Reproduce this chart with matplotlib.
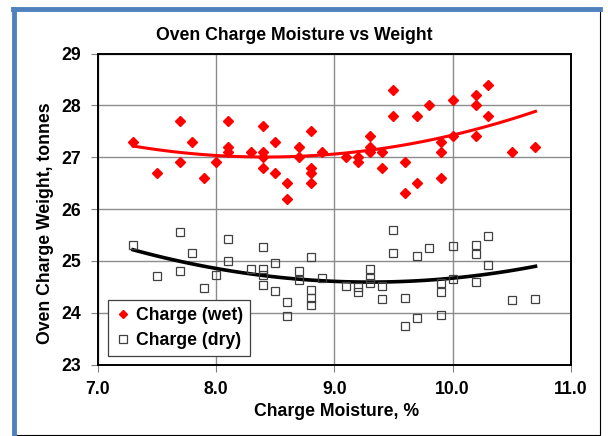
import numpy as np
import matplotlib
matplotlib.use("Agg")
import matplotlib.pyplot as plt
from matplotlib.patches import Rectangle
from matplotlib.lines import Line2D

plt.rcParams['font.family'] = ['Liberation Sans', 'DejaVu Sans']

# wet charge: moisture % vs weight (tonnes)
wet_x = [7.3, 7.5, 7.7, 7.7, 7.8, 7.9, 8.0, 8.1, 8.1, 8.1, 8.3,
         8.4, 8.4, 8.4, 8.4, 8.5, 8.5, 8.6, 8.6, 8.7, 8.7,
         8.8, 8.8, 8.8, 8.8, 8.9, 9.1, 9.2, 9.2, 9.3, 9.3, 9.3,
         9.4, 9.4, 9.5, 9.5, 9.6, 9.6, 9.7, 9.7, 9.8,
         9.9, 9.9, 9.9, 10.0, 10.0, 10.2, 10.2, 10.2, 10.3, 10.3, 10.5, 10.7]
wet_y = [27.3, 26.7, 27.7, 26.9, 27.3, 26.6, 26.9, 27.7, 27.2, 27.1, 27.1,
         27.6, 27.1, 27.0, 26.8, 27.3, 26.7, 26.5, 26.2, 27.2, 27.0,
         27.5, 26.8, 26.7, 26.5, 27.1, 27.0, 27.0, 26.9, 27.4, 27.2, 27.1,
         27.1, 26.8, 28.3, 27.8, 26.9, 26.3, 27.8, 26.5, 28.0,
         27.3, 27.1, 26.6, 28.1, 27.4, 28.2, 28.0, 27.4, 28.4, 27.8, 27.1, 27.2]

# dry charge
dry_x = [7.3, 7.5, 7.7, 7.7, 7.8, 7.9, 8.0, 8.1, 8.1, 8.3,
         8.4, 8.4, 8.4, 8.4, 8.5, 8.5, 8.6, 8.6, 8.7, 8.7,
         8.8, 8.8, 8.8, 8.8, 8.9, 9.1, 9.2, 9.2, 9.3, 9.3, 9.3,
         9.4, 9.4, 9.5, 9.5, 9.6, 9.6, 9.7, 9.7, 9.8,
         9.9, 9.9, 9.9, 10.0, 10.0, 10.2, 10.2, 10.2, 10.3, 10.3, 10.5, 10.7]
dry_y = [25.3, 24.7, 25.56, 24.81, 25.15, 24.48, 24.73, 25.43, 24.99, 24.84,
         25.26, 24.84, 24.72, 24.53, 24.96, 24.42, 24.2, 23.93, 24.81, 24.63,
         25.07, 24.43, 24.29, 24.14, 24.67, 24.51, 24.5, 24.4, 24.84, 24.67, 24.58,
         24.52, 24.26, 25.6, 25.15, 24.29, 23.75, 25.09, 23.9, 25.24,
         24.58, 24.4, 23.95, 25.28, 24.64, 25.3, 25.14, 24.59, 25.48, 24.92, 24.24, 24.26]

xticks = [7.0, 8.0, 9.0, 10.0, 11.0]
yticks = [23, 24, 25, 26, 27, 28, 29]

W, H = 608, 436
fs = 12.7
fig = plt.figure(figsize=(W / 100, H / 100), dpi=100)

# chart frame: thin black box with a blue edge on the left and top
fig.patches.append(Rectangle((13 / W, 1 - 435 / H), 587 / W, 427 / H,
                             transform=fig.transFigure, fill=False,
                             edgecolor='black', linewidth=0.8))
fig.lines.append(Line2D([14 / W, 14 / W], [1 - 435 / H, 1 - 9 / H],
                        transform=fig.transFigure, color='#4f81bd', linewidth=3.5))
fig.lines.append(Line2D([12.5 / W, 600 / W], [1 - 9 / H, 1 - 9 / H],
                        transform=fig.transFigure, color='#4f81bd', linewidth=3.5))

ax = fig.add_axes([97.5 / W, 1 - 364.5 / H, 473.5 / W, 311 / H])

ax.grid(True, color='#8c8c8c', linewidth=1)
ax.set_axisbelow(True)

# polynomial (order 2) trend lines
xs = np.linspace(min(wet_x), max(wet_x), 100)
ax.plot(xs, np.polyval(np.polyfit(wet_x, wet_y, 2), xs), color='red', lw=2.2, zorder=3)
xs = np.linspace(min(dry_x), max(dry_x), 100)
ax.plot(xs, np.polyval(np.polyfit(dry_x, dry_y, 2), xs), color='black', lw=2.6, zorder=3)

ax.plot(wet_x, wet_y, 'D', color='red', ms=4.6, mec='red', ls='none',
        label='Charge (wet)', zorder=4)
ax.plot(dry_x, dry_y, 's', mfc='none', mec='#404040', ms=6, mew=0.9, ls='none',
        label='Charge (dry)', zorder=4)

ax.set_xlim(7, 11)
ax.set_ylim(23, 29)
ax.set_xticks(xticks)
ax.set_yticks(yticks)
ax.set_xticklabels(['%.1f' % v for v in xticks])
ax.tick_params(direction='out', length=5, color='#808080', labelsize=fs, pad=7)
for lab in ax.get_xticklabels() + ax.get_yticklabels():
    lab.set_fontweight('bold')
for s in ax.spines.values():
    s.set_linewidth(1.4)
    s.set_color('black')

leg = ax.legend(loc='lower left', bbox_to_anchor=(10.5 / 473.5, 8.5 / 311),
                prop={'weight': 'bold', 'size': fs}, borderaxespad=0,
                fancybox=False, edgecolor='#404040', framealpha=1,
                handletextpad=0.3, handlelength=0.9, borderpad=0.4,
                labelspacing=0.45, markerscale=0.85)
leg.get_frame().set_linewidth(0.9)

fig.text(294 / W, 1 - 36 / H, 'Oven Charge Moisture vs Weight', ha='center',
         va='center', fontsize=fs, fontweight='bold')
fig.text(337 / W, 1 - 411 / H, 'Charge Moisture, %', ha='center', va='center',
         fontsize=fs, fontweight='bold')
fig.text(46 / W, 1 - 223 / H, 'Oven Charge Weight, tonnes', ha='center',
         va='center', rotation=90, fontsize=fs, fontweight='bold')

fig.savefig('out.png', dpi=100)
